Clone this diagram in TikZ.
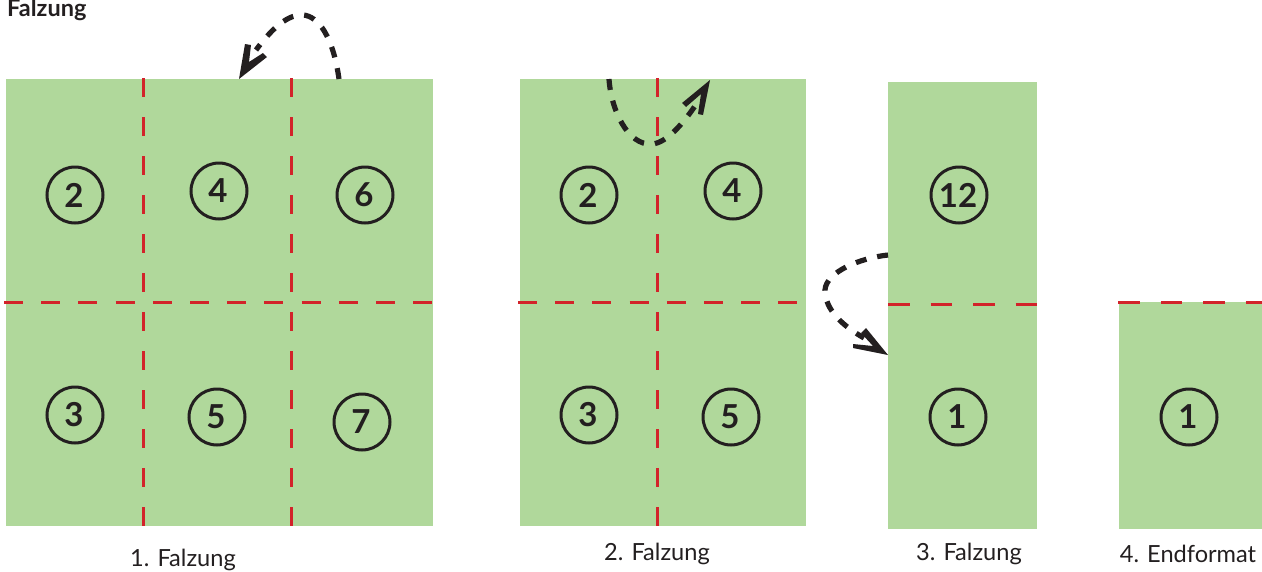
\documentclass[tikz,border=0pt]{standalone}
\usepackage{fontspec}
\setmainfont{Lato}
\definecolor{paper}{HTML}{B0D89B}
\definecolor{foldred}{HTML}{D2232A}
\definecolor{ink}{HTML}{231F20}
\tikzset{
  x=1pt,y=-1pt,
  sheet/.style={fill=paper,draw=none},
  foldh/.style={draw=foldred,line width=3pt,dash pattern=on 19pt off 18.2pt},
  foldv/.style={draw=foldred,line width=3pt,dash pattern=on 19pt off 20pt},
  foldn/.style={draw=foldred,line width=3pt,dash pattern=on 21.5pt off 21pt},
  pagenum/.style={circle,draw=ink,line width=3pt,minimum size=56pt,inner sep=0pt,text=ink,font=\fontsize{33}{33}\selectfont\bfseries,execute at begin node=\kern-2pt},
  caption/.style={text=ink,font=\fontsize{23.6}{24}\selectfont,inner sep=0pt},
  flip/.style={draw=ink,line width=5.2pt,dash pattern=on 11pt off 11pt},
  fliptip/.style={fill=ink,draw=none},
}
\begin{document}
\begin{tikzpicture}
\useasboundingbox (0,0) rectangle (1262,571);
% sheets
\path[sheet] (6,79) rectangle (433,526);
\path[sheet] (520,79) rectangle (806,526);
\path[sheet] (888,82) rectangle (1037,529);
\path[sheet] (1119,302) rectangle (1262,529);
% fold line ends
\coordinate (a1) at (4,302); \coordinate (a2) at (433,302);
\coordinate (b1) at (143,78); \coordinate (b2) at (143,526);
\coordinate (c1) at (291,78); \coordinate (c2) at (291,526);
\coordinate (d1) at (518,302); \coordinate (d2) at (806,302);
\coordinate (e1) at (657,78); \coordinate (e2) at (657,526);
\coordinate (f1) at (888,304); \coordinate (f2) at (1037,304);
\coordinate (g1) at (1118,302.5); \coordinate (g2) at (1262,302.5);
% fold lines
\draw[foldh] (a1) -- (a2);
\draw[foldv] (b1) -- (b2);
\draw[foldv] (c1) -- (c2);
\draw[foldh] (d1) -- (d2);
\draw[foldv] (e1) -- (e2);
\draw[foldn] (f1) -- (f2);
\draw[foldn] (g1) -- (g2);
% page numbers
\node[pagenum] (n2) at (75,195) {2};
\node[pagenum] (n4) at (219,191) {4};
\node[pagenum] (n6) at (365,195) {6};
\node[pagenum] (n3) at (75,415) {3};
\node[pagenum] (n5) at (217,417) {5};
\node[pagenum] (n7) at (362,422) {7};
\node[pagenum] (m2) at (589,195) {2};
\node[pagenum] (m4) at (733,191) {4};
\node[pagenum] (m3) at (589,415) {3};
\node[pagenum] (m5) at (731,417) {5};
\node[pagenum] (p12) at (959,195) {12};
\node[pagenum] (p1) at (958,417) {1};
\node[pagenum] (q1) at (1189,417) {1};
% fold arrows
\coordinate (s1) at (339,79); \coordinate (t1) at (239,79);
\coordinate (s2) at (609,79); \coordinate (t2) at (710,80);
\coordinate (s3) at (888,255); \coordinate (t3) at (888,355);
\draw[flip] (s1) .. controls (333,36) and (318,16) .. (303,15)
  .. controls (285,14) and (268,34) .. (256,50);
\draw[flip] (s2) .. controls (611,110) and (628,146) .. (652,144)
  .. controls (667,143) and (684,122) .. (695,106);
\draw[flip] (s3) .. controls (860,258) and (826,272) .. (825,290)
  .. controls (825,310) and (843,326) .. (864,338);
\fill[fliptip] (t1) -- (245,44) -- (251,45) -- (249,62) -- (263,53) -- (267,57) -- cycle;
\fill[fliptip] (t2) -- (682,103) -- (686,107) -- (701,94) -- (698,114) -- (703,115) -- cycle;
\fill[fliptip] (t3) -- (853,348) -- (853,344) -- (873,346) -- (861,333) -- (866,328) -- cycle;
% captions
\node[text=ink,font=\fontsize{23.5}{24}\selectfont\bfseries,inner sep=0pt,anchor=west] (title) at (7,10) {Falzung};
\node[caption] (l1) at (183,560) {1. Falzung};
\node[caption] (l2) at (657,554) {2. Falzung};
\node[caption] (l3) at (969,554) {3. Falzung};
\node[caption] (l4) at (1188,554) {4. Endformat};
\end{tikzpicture}
\end{document}
